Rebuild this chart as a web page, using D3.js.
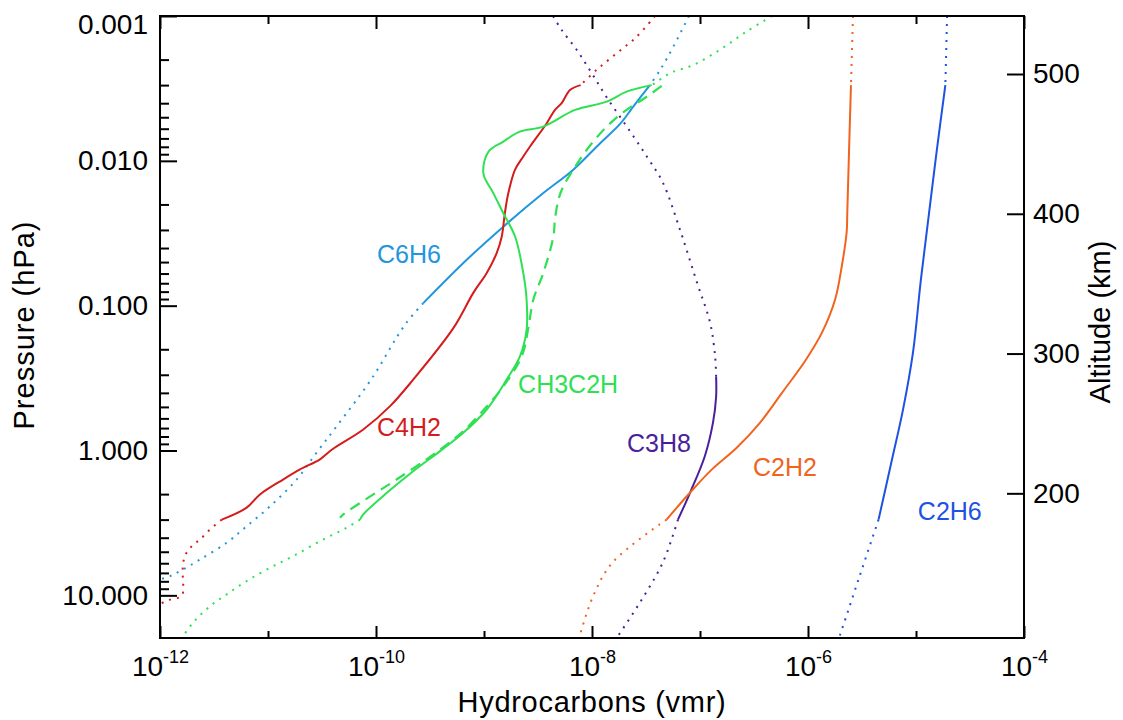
<!DOCTYPE html>
<html>
<head>
  <meta charset="utf-8">
  <title>Hydrocarbon profiles</title>
  <style>
    body { margin: 0; background: #fff; }
    svg { display: block; font-family: "Liberation Sans", Arial, Helvetica, sans-serif; }
    .tick line { stroke: #000; stroke-width: 2; }
    .domain { display: none; }
    .tick text { fill: #000; }
    .frame { fill: none; stroke: #000; stroke-width: 2; }
    .axis-title { font-size: 29px; fill: #000; }
    .series-label { font-size: 25px; }
  </style>
</head>
<body>
<svg id="canvas"></svg>
<script src="https://cdn.jsdelivr.net/npm/d3@7"></script>
<script>
// profiles: [vmr, pressure hPa]
const c2h6 = [[1.94e-5, 0.001], [1.87e-5, 0.003], [1.56e-5, 0.0084], [1.32e-5, 0.023], [1.11e-5, 0.066],
  [9.38e-6, 0.21], [7.59e-6, 0.52], [6.0e-6, 1.15], [4.5e-6, 3.0], [3.0e-6, 7.4], [1.94e-6, 19.7]];

const c2h2 = [[2.61e-6, 0.001], [2.50e-6, 0.003], [2.40e-6, 0.0084], [2.31e-6, 0.023], [2.28e-6, 0.031],
  [2.05e-6, 0.054], [1.78e-6, 0.091], [1.35e-6, 0.153], [9.57e-7, 0.236], [5.74e-7, 0.40], [3.6e-7, 0.641],
  [2.2e-7, 0.953], [1.29e-7, 1.35], [8.1e-8, 1.95], [4.9e-8, 3.0], [1.56e-8, 5.9], [1.02e-8, 10.2], [7.6e-9, 19.7]];

const c3h8 = [[4.36e-9, 0.001], [5.24e-9, 0.00125], [7.21e-9, 0.00171], [9.93e-9, 0.00248], [1.37e-8, 0.00365],
  [2.11e-8, 0.00583], [3.23e-8, 0.00937], [4.54e-8, 0.0142], [6.53e-8, 0.0299], [9.38e-8, 0.0693],
  [1.24e-7, 0.131], [1.38e-7, 0.224], [1.41e-7, 0.31], [1.41e-7, 0.425], [1.32e-7, 0.64], [1.11e-7, 1.09],
  [8.1e-8, 1.95], [6.25e-8, 3.0], [4.54e-8, 5.9], [2.78e-8, 11.2], [1.69e-8, 19.7]];

const c6h6 = [[7.9e-8, 0.001], [5.66e-8, 0.00163], [4.27e-8, 0.00236], [3.44e-8, 0.003], [2.41e-8, 0.00422],
  [1.82e-8, 0.00556], [1.19e-8, 0.00755], [6.71e-9, 0.0115], [3.54e-9, 0.0167], [1.51e-9, 0.0285],
  [6.92e-10, 0.0482], [2.74e-10, 0.096], [1.86e-10, 0.135], [9.0e-11, 0.324], [4.33e-11, 0.679],
  [2.83e-11, 1.03], [1.85e-11, 1.58], [1.05e-11, 2.42], [6.35e-12, 3.33], [4.15e-12, 4.33], [2.35e-12, 5.65],
  [1.64e-12, 6.62], [1.24e-12, 7.36], [1.0e-12, 7.76], [8.1e-13, 8.13]];

const c4h2 = [[3.83e-8, 0.001], [2.59e-8, 0.00139], [1.69e-8, 0.00181], [1.10e-8, 0.00236], [7.85e-9, 0.003],
  [6.25e-9, 0.00324], [5.24e-9, 0.0040], [4.54e-9, 0.00445], [3.81e-9, 0.0055], [2.67e-9, 0.00796],
  [2.31e-9, 0.00933], [1.94e-9, 0.0115], [1.68e-9, 0.0167], [1.56e-9, 0.023], [1.46e-9, 0.0333],
  [1.31e-9, 0.0434], [1.06e-9, 0.0594], [7.96e-10, 0.0816], [5.2e-10, 0.143], [2.21e-10, 0.324],
  [1.35e-10, 0.494], [7.62e-11, 0.716], [3.92e-11, 0.984], [3.03e-11, 1.15], [1.98e-11, 1.35],
  [1.39e-11, 1.58], [8.43e-12, 2.01], [6.35e-12, 2.48], [3.73e-12, 3.0], [2.90e-12, 3.51], [2.35e-12, 4.11],
  [1.97e-12, 4.57], [1.70e-12, 5.36], [1.62e-12, 6.62], [1.64e-12, 8.63], [1.59e-12, 10.1], [1.24e-12, 10.7],
  [1.0e-12, 11.4], [8.1e-13, 11.9]];

const ch3c2h = [[4.65e-7, 0.001], [2.70e-7, 0.00128], [1.53e-7, 0.00171], [8.67e-8, 0.00218], [5.27e-8, 0.00248],
  [3.83e-8, 0.00291], [3.57e-8, 0.003], [2.09e-8, 0.00333], [1.37e-8, 0.0039], [6.97e-9, 0.00445],
  [3.54e-9, 0.0058], [2.15e-9, 0.00628], [1.51e-9, 0.00736], [1.10e-9, 0.00863], [9.87e-10, 0.0122],
  [1.22e-9, 0.0167], [1.51e-9, 0.023], [1.94e-9, 0.0333], [2.31e-9, 0.0594], [2.48e-9, 0.091],
  [2.48e-9, 0.147], [2.15e-9, 0.224], [1.62e-9, 0.324], [1.06e-9, 0.521], [6.43e-10, 0.755],
  [3.92e-10, 1.01], [2.21e-10, 1.39], [1.26e-10, 1.96], [7.62e-11, 2.76], [7.11e-11, 3.0], [5.36e-11, 3.41],
  [3.03e-11, 4.22], [1.71e-11, 5.36], [1.05e-11, 6.44], [6.35e-12, 7.96], [4.15e-12, 9.84], [2.90e-12, 11.9],
  [2.03e-12, 15.4], [1.59e-12, 19.7]];

// second CH3C2H profile (dashed)
const ch3c2hAlt = [[4.42e-8, 0.00304], [3.21e-8, 0.00361], [2.09e-8, 0.00445], [1.37e-8, 0.0058], [8.93e-9, 0.0084],
  [6.71e-9, 0.0115], [5.42e-9, 0.015], [4.88e-9, 0.0186], [4.54e-9, 0.0255], [4.39e-9, 0.0333], [3.54e-9, 0.0594],
  [2.86e-9, 0.091], [2.57e-9, 0.143], [2.25e-9, 0.221], [1.51e-9, 0.361], [1.0e-9, 0.521], [6.43e-10, 0.736],
  [4.52e-10, 0.91], [2.94e-10, 1.15], [1.56e-10, 1.58], [9.44e-11, 2.01], [4.98e-11, 2.76], [4.64e-11, 2.91]];

// pressure range [top, bottom] where each profile is drawn solid
const solidRanges = {
  C2H6: [0.003, 3.0], C2H2: [0.003, 3.0], C3H8: [0.31, 3.0],
  C6H6: [0.003, 0.096], C4H2: [0.003, 3.0], CH3C2H: [0.003, 3.0]
};

// label anchors [name, vmr, pressure]
const labelAnchors = [["C6H6", 1.02e-10, 0.0505], ["C4H2", 1.02e-10, 0.80], ["CH3C2H", 2.07e-9, 0.398],
  ["C3H8", 2.11e-8, 1.02], ["C2H2", 3.1e-7, 1.51], ["C2H6", 1.04e-5, 3.04]];

const xMajor = [1e-12, 1e-10, 1e-8, 1e-6, 1e-4];
const xMinor = [1e-11, 1e-9, 1e-7, 1e-5];
const pMajor = [0.001, 0.01, 0.1, 1, 10];
const altTicks = [200, 300, 400, 500];

const colors = {
  C2H6: "#1d52e2", C2H2: "#f0641e", C3H8: "#4a1f9c",
  C6H6: "#2196de", C4H2: "#d41c1c", CH3C2H: "#2ee052"
};

const species = [
  { name: "C6H6", data: c6h6 }, { name: "C4H2", data: c4h2 }, { name: "CH3C2H", data: ch3c2h },
  { name: "C3H8", data: c3h8 }, { name: "C2H2", data: c2h2 }, { name: "C2H6", data: c2h6 }
];

const width = 1123, height = 720;
const margin = { top: 16, right: 99, bottom: 82, left: 160 };
const pBottom = 19.7;

const x = d3.scaleLog().domain([1e-12, 1e-4]).range([margin.left, width - margin.right]);
const y = d3.scaleLog().domain([0.001, pBottom]).range([margin.top, height - margin.bottom]);
const alt = d3.scaleLinear().domain([96.5, 541.5]).range([height - margin.bottom, margin.top]);

const pMinor = pMajor.flatMap(d => d3.range(2, 10).map(k => k * d)).filter(v => v < pBottom);

const svg = d3.select("#canvas").attr("width", width).attr("height", height);

svg.append("clipPath").attr("id", "plot-clip")
  .append("rect")
  .attr("x", x.range()[0]).attr("y", y.range()[0])
  .attr("width", x.range()[1] - x.range()[0]).attr("height", y.range()[1] - y.range()[0]);

const line = d3.line()
  .x(d => x(d[0]))
  .y(d => y(d[1]))
  .curve(d3.curveCatmullRom.alpha(0.5));

const plot = svg.append("g").attr("clip-path", "url(#plot-clip)");

species.forEach(s => {
  const [top, bot] = solidRanges[s.name];
  const parts = [
    { pts: s.data.filter(d => d[1] <= top), dash: "2 6" },
    { pts: s.data.filter(d => d[1] >= top && d[1] <= bot), dash: null },
    { pts: s.data.filter(d => d[1] >= bot), dash: "2 6" }
  ];
  parts.filter(p => p.pts.length > 1).forEach(p => {
    plot.append("path")
      .attr("d", line(p.pts))
      .attr("fill", "none")
      .attr("stroke", colors[s.name])
      .attr("stroke-width", 2)
      .attr("stroke-dasharray", p.dash);
  });
});

plot.append("path")
  .attr("d", line(ch3c2hAlt))
  .attr("fill", "none")
  .attr("stroke", colors.CH3C2H)
  .attr("stroke-width", 2.2)
  .attr("stroke-dasharray", "11 7");

// axes
const xBot = y.range()[1], xTop = y.range()[0];

const gxb = svg.append("g").attr("transform", `translate(0,${xBot})`)
  .call(d3.axisBottom(x).tickValues(xMajor).tickSize(-12).tickFormat(""));
svg.append("g").attr("transform", `translate(0,${xBot})`)
  .call(d3.axisBottom(x).tickValues(xMinor).tickSize(-7).tickFormat(""));
svg.append("g").attr("transform", `translate(0,${xTop})`)
  .call(d3.axisTop(x).tickValues(xMajor).tickSize(-13).tickFormat(""));
svg.append("g").attr("transform", `translate(0,${xTop})`)
  .call(d3.axisTop(x).tickValues(xMinor).tickSize(-8).tickFormat(""));

gxb.selectAll(".tick text")
  .attr("y", 38).attr("dy", null)
  .attr("font-size", 28)
  .each(function (d) {
    const t = d3.select(this);
    t.append("tspan").text("10");
    t.append("tspan").attr("font-size", 18).attr("dy", -13).text(Math.round(Math.log10(d)));
  });

const gy = svg.append("g").attr("transform", `translate(${x.range()[0]},0)`)
  .call(d3.axisLeft(y).tickValues(pMajor).tickSize(-17).tickPadding(12).tickFormat(d3.format(".3f")));
svg.append("g").attr("transform", `translate(${x.range()[0]},0)`)
  .call(d3.axisLeft(y).tickValues(pMinor).tickSize(-9).tickFormat(""));
gy.selectAll(".tick text").attr("font-size", 28);
gy.selectAll(".tick text").filter(d => d === 0.001).attr("y", 9);

const ga = svg.append("g").attr("transform", `translate(${x.range()[1]},0)`)
  .call(d3.axisRight(alt).tickValues(altTicks).tickSize(-17).tickPadding(9));
ga.selectAll(".tick text").attr("font-size", 28);

svg.selectAll("g").filter(function () { return this.hasAttribute("font-family"); })
  .attr("font-family", null).attr("font-size", null);

svg.append("rect").attr("class", "frame")
  .attr("x", x.range()[0]).attr("y", y.range()[0])
  .attr("width", x.range()[1] - x.range()[0]).attr("height", y.range()[1] - y.range()[0]);

// titles
svg.append("text").attr("class", "axis-title")
  .attr("x", (x.range()[0] + x.range()[1]) / 2).attr("y", 712)
  .attr("text-anchor", "middle").attr("letter-spacing", 0.7)
  .text("Hydrocarbons (vmr)");

svg.append("text").attr("class", "axis-title")
  .attr("transform", "translate(34,325) rotate(-90)")
  .attr("text-anchor", "middle").attr("letter-spacing", 1)
  .text("Pressure (hPa)");

svg.append("text").attr("class", "axis-title")
  .attr("transform", "translate(1110,322) rotate(-90)")
  .attr("text-anchor", "middle")
  .text("Altitude (km)");

svg.selectAll(".series-label")
  .data(labelAnchors)
  .enter().append("text")
  .attr("class", "series-label")
  .attr("x", d => x(d[1]))
  .attr("y", d => y(d[2]))
  .attr("fill", d => colors[d[0]])
  .text(d => d[0]);
</script>
</body>
</html>
